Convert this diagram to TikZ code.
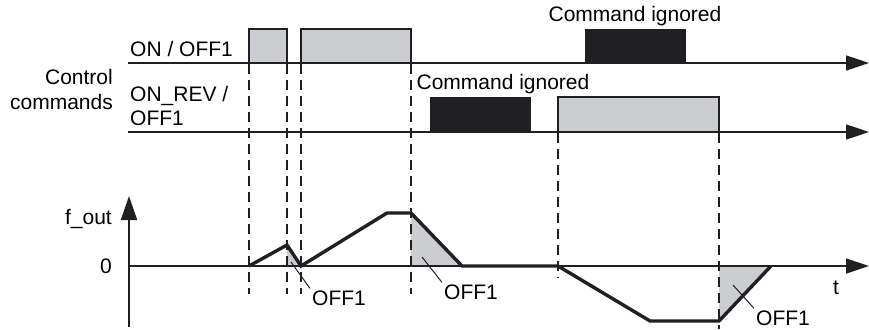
\documentclass[tikz,border=0pt]{standalone}
\usepackage{fontspec}
\setmainfont{Liberation Sans}
\usetikzlibrary{arrows.meta}
\definecolor{pulsegray}{RGB}{203,205,209}
\definecolor{inkblack}{RGB}{32,31,33}

\begin{document}
\begin{tikzpicture}[
        x=1pt, y=-1pt,
        lbl/.style={font=\fontsize{21}{24.5}\selectfont, inner sep=2pt},
        axis/.style={line width=1.5pt, draw=inkblack, -{Triangle[length=23pt, width=15pt]}},
        pulse/.style={line width=1.5pt, draw=inkblack, fill=pulsegray},
        ignored/.style={fill=inkblack},
        guide/.style={line width=2pt, draw=inkblack, dash pattern=on 10pt off 6pt},
        fout/.style={line width=3.4pt, draw=inkblack, line join=miter},
        area/.style={fill=pulsegray},
        leader/.style={line width=1pt, draw=inkblack},
    ]
    \useasboundingbox (0,0) rectangle (869,329);

    % axes
    \coordinate (onS)  at (128,63);  \coordinate (onE)  at (869,63);
    \coordinate (revS) at (128,132); \coordinate (revE) at (869,132);
    \coordinate (tS)   at (129,266); \coordinate (tE)   at (869,266);
    \coordinate (fS)   at (129,327); \coordinate (fE)   at (129,196);

    % pulses and ignored commands
    \draw[pulse] (249,63) rectangle (287,29);
    \draw[pulse] (301,63) rectangle (411,29);
    \draw[pulse] (558,132) rectangle (719,97);
    \fill[ignored] (585,63) rectangle (686,29);
    \fill[ignored] (430,132) rectangle (531,97);

    \draw[axis] (onS) -- (onE);
    \draw[axis] (revS) -- (revE);

    % braking areas
    \fill[area] (287,245) -- (301,266) -- (287,266) -- cycle;
    \fill[area] (411,213) -- (462,266) -- (411,266) -- cycle;
    \fill[area] (719,321) -- (771,266) -- (719,266) -- cycle;

    % guide lines
    \foreach \gx in {249,287,301,411}
        \draw[guide] (\gx,64) -- (\gx,294);
    \draw[guide] (558,133) -- (558,278);
    \draw[guide] (719,133) -- (719,329);

    \draw[axis, line width=1.2pt] (tS) -- (tE);
    \draw[axis, line width=2pt, -{Triangle[length=24pt, width=16pt]}] (fS) -- (fE);

    % output frequency
    \draw[fout] (249,266) -- (287,245) -- (301,266) -- (387,213) -- (411,213)
        -- (462,266) -- (558,266) -- (650,321) -- (719,321) -- (771,266);

    % texts
    \node[lbl, anchor=west] (onoff) at (128,49) {ON / OFF1};
    \node[lbl, anchor=west, align=left] (onrev) at (128,106) {ON\_REV /\\OFF1};
    \node[lbl, anchor=east, align=right] (ctrl) at (115,89.5) {Control\\commands};
    \node[lbl] (ign1) at (635,16) {Command ignored};
    \node[lbl] (ign2) at (503,84) {Command ignored};
    \node[lbl, anchor=east] (fout) at (114,219) {f\_out};
    \node[lbl, anchor=east] (zero) at (114,266) {0};
    \node[lbl] (tlbl) at (836,288) {t};

    \node[lbl] (off1a) at (339,298) {OFF1};
    \node[lbl] (off1b) at (471,292) {OFF1};
    \node[lbl] (off1c) at (783,318) {OFF1};

    \coordinate (pa) at (291,262);
    \coordinate (pb) at (422,257);
    \coordinate (pc) at (733,285);
    \draw[leader] (pa) -- (off1a.north west);
    \draw[leader] (pb) -- (off1b.north west);
    \draw[leader] (pc) -- (off1c.north west);
\end{tikzpicture}
\end{document}
